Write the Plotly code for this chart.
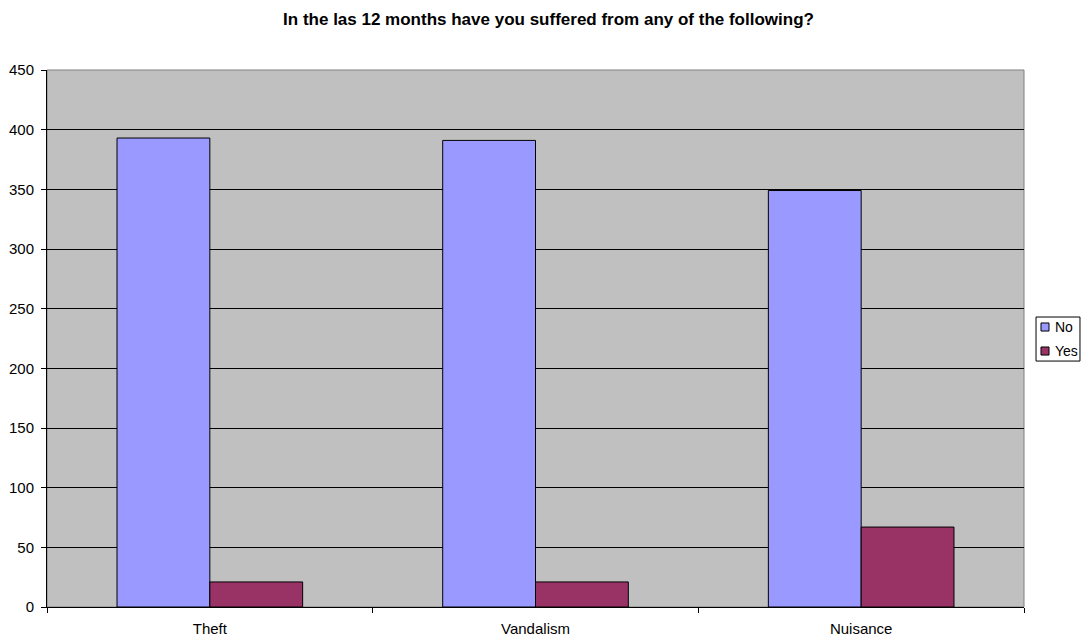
import plotly.graph_objects as go

categories = ["Theft", "Vandalism", "Nuisance"]
series_names = ["No", "Yes"]
no_values = [393, 391, 349]
yes_values = [21, 21, 67]
series_colors = ["#9999FF", "#993366"]

# the page body has an 8px margin, so the figure is a little smaller and margins shifted
W, H = 1081, 633

fig = go.Figure()
for name, vals, col in zip(series_names, [no_values, yes_values], series_colors):
    fig.add_trace(go.Bar(
        x=categories, y=vals, name=name,
        marker=dict(color=col, line=dict(color="#000000", width=1)),
    ))

# grey plot-area frame like the spreadsheet default
fig.add_shape(type="rect", xref="paper", yref="paper", x0=0, y0=0, x1=1, y1=1,
              line=dict(color="#808080", width=1), layer="below")

# compact legend box drawn by hand (plotly's own legend is too wide for the margin)
fig.add_shape(type="rect", xref="paper", yref="paper", x0=1.0123, x1=1.0573, y0=0.458, y1=0.540,
              line=dict(color="#000000", width=1), fillcolor="#FFFFFF")
for i, (name, col) in enumerate(zip(series_names, series_colors)):
    yc = 0.5214 - i * 0.0447
    fig.add_shape(type="rect", xref="paper", yref="paper",
                  x0=1.0174, x1=1.0256, y0=yc - 0.0075, y1=yc + 0.0075,
                  line=dict(color="#000000", width=1), fillcolor=col)
    fig.add_annotation(x=1.0297, y=yc, xref="paper", yref="paper", text=name,
                       showarrow=False, xanchor="left", yanchor="middle",
                       font=dict(size=14, color="#000000"))

fig.update_layout(
    width=W, height=H,
    paper_bgcolor="#FFFFFF", plot_bgcolor="#C0C0C0",
    font=dict(family="Liberation Sans, Arial", size=15, color="#000000"),
    title=dict(text="<b>In the las 12 months have you suffered from any of the following?</b>",
               x=0.5, xanchor="center", y=1 - 11 / H, yanchor="middle",
               font=dict(size=17)),
    margin=dict(l=39, r=65, t=62, b=34, autoexpand=False),
    barmode="group", bargap=0.43, bargroupgap=0,
    showlegend=False,
    xaxis=dict(showline=True, linecolor="#000000", linewidth=1,
               ticks="outside", tickson="boundaries", ticklen=5, tickcolor="#000000",
               ticklabelstandoff=8, showgrid=False),
    yaxis=dict(range=[0, 450], dtick=50, showline=True, linecolor="#000000", linewidth=1,
               ticks="outside", ticklen=5, tickcolor="#000000", ticklabelstandoff=4,
               gridcolor="#000000", gridwidth=1, zeroline=False),
)

fig.write_html("out.html")
